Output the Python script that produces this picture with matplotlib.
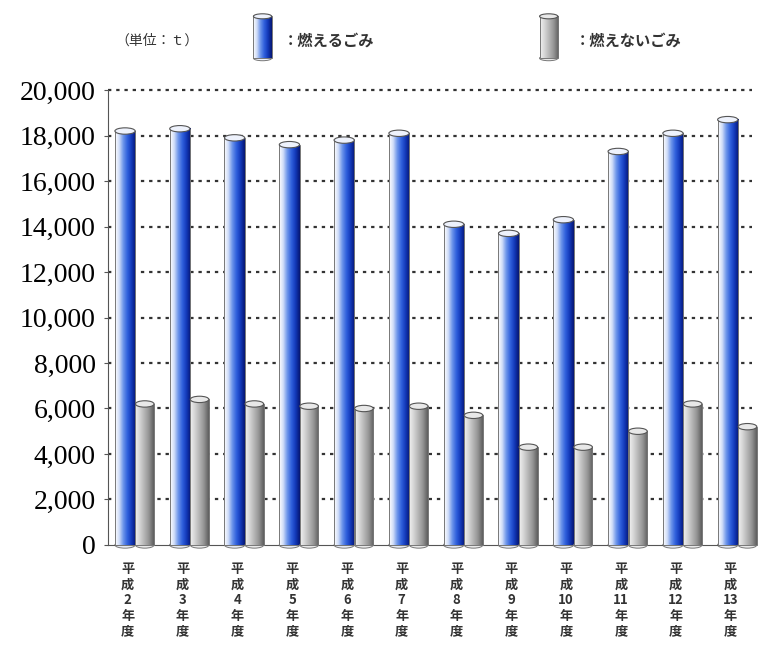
import numpy as np
import matplotlib
matplotlib.use('Agg')
import matplotlib.pyplot as plt
from matplotlib.colors import LinearSegmentedColormap
from matplotlib.patches import Ellipse, Rectangle

# データ (単位: t)
years = [2, 3, 4, 5, 6, 7, 8, 9, 10, 11, 12, 13]
moeru = [18200, 18300, 17900, 17600, 17800, 18100, 14100, 13700, 14300, 17300, 18100, 18700]
moenai = [6200, 6400, 6200, 6100, 6000, 6100, 5700, 4300, 4300, 5000, 6200, 5200]
yticks = [0, 2000, 4000, 6000, 8000, 10000, 12000, 14000, 16000, 18000, 20000]

plt.rcParams['font.family'] = ['Noto Sans CJK JP', 'DejaVu Sans']

blue_cmap = LinearSegmentedColormap.from_list('b', ['#ffffff', '#cfdcf8', '#6a93ea', '#2f5fdc', '#1238b8', '#061672'])
gray_cmap = LinearSegmentedColormap.from_list('g', ['#f0f0f0', '#d4d4d4', '#b4b4b4', '#929292', '#5e5e5e'])
grad = np.linspace(0, 1, 64).reshape(1, -1)


def cylinder(ax, x, w, h, cmap, top, ell_h, z):
    ax.imshow(grad, cmap=cmap, extent=[x - w/2, x + w/2, 0, h], aspect='auto', zorder=z,
              interpolation='bilinear', clip_on=False)
    ax.add_patch(Rectangle((x - w/2, 0), w, h, fill=False, edgecolor='#777777', lw=0.7, zorder=z + 0.1, clip_on=False))
    ax.add_patch(Ellipse((x, 0), w, ell_h, facecolor=top, edgecolor='#777777', lw=0.7, zorder=z - 0.5, clip_on=False))
    ax.add_patch(Ellipse((x, h), w, ell_h, facecolor=top, edgecolor='#555555', lw=0.8, zorder=z + 0.2, clip_on=False))


fig = plt.figure(figsize=(7.61, 6.48), dpi=100)
ax = fig.add_axes([0.142, 0.159, 0.846, 0.702])

x = np.arange(len(years))
for i in range(len(years)):
    cylinder(ax, x[i], 0.37, moeru[i], blue_cmap, '#eef2fc', 280, 3)
    cylinder(ax, x[i] + 0.36, 0.34, moenai[i], gray_cmap, '#e8e8e8', 280, 4)

ax.set_xlim(-0.31, 11.44)
ax.set_ylim(0, 20000)

for v in yticks[1:]:
    ax.axhline(v, color='#333333', lw=1.6, linestyle=(0, (1.5, 2.2)), zorder=1, clip_on=False)

ax.set_yticks(yticks)
ax.set_yticklabels(['{:,}'.format(v) for v in yticks], family='Liberation Serif', fontsize=20)
ax.tick_params(axis='y', length=3, pad=6, color='#555555')

ax.set_xticks(x + 0.05)
ax.set_xticklabels(['平\n成\n{}\n年\n度'.format(y) for y in years], fontsize=9.5, linespacing=1.15,
                   color='#333333', weight='bold')
ax.tick_params(axis='x', length=0, pad=12)

for s in ['top', 'right']:
    ax.spines[s].set_visible(False)
ax.spines['left'].set_color('#555555')
ax.spines['bottom'].set_color('#555555')

# 凡例
fig.text(0.152, 0.937, '（単位：ｔ）', fontsize=10, va='center', color='#333333')
fig.text(0.372, 0.937, '：燃えるごみ', fontsize=11, va='center', color='#333333', weight='bold')
fig.text(0.755, 0.937, '：燃えないごみ', fontsize=11, va='center', color='#333333', weight='bold')

for left, cmap, top in [(0.330, blue_cmap, '#eef2fc'), (0.706, gray_cmap, '#e8e8e8')]:
    lax = fig.add_axes([left, 0.905, 0.03, 0.075])
    cylinder(lax, 0.5, 0.8, 1.0, cmap, top, 0.12, 3)
    lax.set_xlim(0, 1)
    lax.set_ylim(-0.08, 1.08)
    lax.axis('off')

fig.savefig('out.png', dpi=100)
